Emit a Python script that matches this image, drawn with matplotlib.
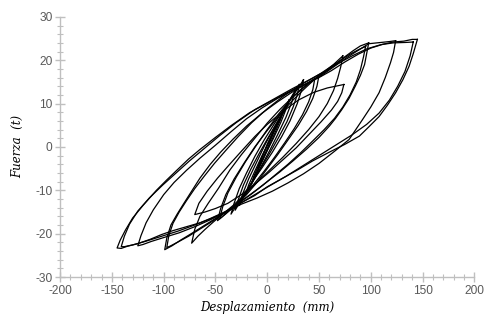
import matplotlib.pyplot as plt
from matplotlib.ticker import MultipleLocator

plt.rcParams["axes.unicode_minus"] = False

# hysteresis cycles: (displacement mm, force t)
# each cycle: lower branch from +tip to -tip, then upper branch back to +tip

c145_x = [145, 141, 137, 131, 124, 116, 108, 98, 89, 75, 60, 44, 30, 15, 0, -12, -23, -33, -43, -55, -65,
          -78, -91, -102, -113, -125, -135, -141, -145,
          -142, -137, -130, -120, -107, -97, -87, -76, -65, -50, -35, -17, 0, 20, 35, 50, 62, 75, 88, 100,
          112, 122, 132, 140, 145]
c145_y = [24.8, 21.5, 18.6, 15.5, 12.5, 9.6, 7.0, 4.6, 2.5, 0.6, -1.2, -3.2, -5.2, -7.2, -9.2, -11.2, -12.6,
          -14.0, -15.2, -16.5, -17.5, -18.4, -19.3, -20.2, -21.3, -22.3, -22.9, -23.4, -23.3,
          -21.5, -19.2, -16.4, -13.5, -10.0, -7.6, -5.3, -2.8, -0.6, 2.2, 4.9, 7.9, 10.1, 12.6, 14.3, 16.0,
          17.6, 19.6, 21.4, 22.8, 23.7, 24.2, 24.4, 24.8, 24.8]

c140_x = [141, 138, 133, 126, 118, 108, 96, 82, 66, 50, 34, 18, 2, -12, -26, -40, -55, -70, -86, -102,
          -118, -130, -138, -141,
          -138, -133, -125, -114, -101, -88, -75, -62, -46, -30, -12, 6, 24, 40, 54, 68, 82, 96, 110, 122,
          134, 141]
c140_y = [24.2, 21.0, 17.4, 14.0, 10.8, 7.8, 5.2, 2.8, 0.4, -2.0, -4.4, -6.8, -9.0, -11.0, -13.0, -15.0,
          -16.6, -18.0, -19.4, -20.6, -21.8, -22.6, -23.0, -23.0,
          -20.6, -17.8, -14.8, -11.8, -8.8, -6.0, -3.2, -0.6, 2.6, 5.6, 8.6, 11.0, 13.4, 15.4, 17.2, 19.2,
          21.0, 22.6, 23.6, 24.0, 24.1, 24.2]

c125_x = [124, 122, 119, 114, 108, 100, 92, 79, 65, 50, 35, 20, 5, -10, -25, -40, -55, -70, -85, -100,
          -112, -120, -125,
          -122, -117, -110, -100, -90, -78, -65, -50, -35, -20, -5, 10, 25, 40, 52, 65, 78, 90, 98, 110,
          118, 124]
c125_y = [24.5, 21.8, 19.4, 16.0, 12.5, 9.2, 6.3, 1.7, -1.0, -3.8, -6.2, -8.3, -10.2, -11.8, -13.2, -15.0,
          -16.8, -18.4, -19.8, -20.9, -21.8, -22.5, -22.8,
          -20.5, -17.5, -14.5, -11.0, -8.2, -5.4, -2.6, 0.4, 3.5, 6.5, 9.0, 11.2, 13.1, 14.8, 16.4, 18.6,
          20.8, 22.6, 23.8, 24.1, 24.3, 24.5]

c100_x = [98, 96, 94, 90, 85, 79, 72, 66, 60, 50, 38, 25, 12, 0, -12, -24, -35, -48, -60, -72, -83, -92,
          -99,
          -97, -93, -87, -81, -73, -65, -55, -45, -33, -20, -5, 10, 25, 38, 48, 58, 68, 75, 83, 90, 98]
c100_y = [24.0, 21.5, 19.0, 16.5, 14.0, 11.2, 8.6, 6.6, 4.8, 2.2, -0.5, -3.2, -5.8, -8.0, -10.2, -12.3,
          -14.2, -16.2, -18.0, -19.8, -21.4, -22.8, -23.7,
          -21.0, -18.0, -15.5, -13.2, -10.2, -7.2, -4.0, -1.2, 1.8, 4.8, 7.8, 10.4, 12.8, 14.6, 16.0, 17.6,
          19.4, 20.8, 22.2, 23.3, 24.0]

c95_x = [95, 93, 90, 86, 80, 73, 65, 55, 44, 32, 20, 8, -4, -16, -28, -40, -52, -64, -76, -86, -94, -97,
         -95, -91, -85, -78, -70, -61, -51, -40, -28, -15, 0, 15, 30, 42, 52, 62, 72, 80, 88, 95]
c95_y = [23.2, 20.8, 17.8, 15.0, 12.0, 9.2, 6.6, 4.0, 1.4, -1.4, -4.0, -6.4, -8.8, -11.0, -13.0, -15.0,
         -17.0, -18.8, -20.6, -21.9, -22.9, -23.2,
         -20.4, -17.6, -15.0, -12.4, -9.6, -6.8, -3.8, -0.8, 2.4, 5.6, 8.8, 11.6, 14.0, 15.6, 17.0, 18.6,
         20.2, 21.4, 22.4, 23.2]

c75_x = [73, 71, 68, 64, 58, 50, 40, 28, 15, 2, -10, -22, -33, -43, -52, -60, -67, -73,
         -70, -65, -57, -47, -36, -25, -12, 0, 12, 25, 36, 45, 55, 64, 73]
c75_y = [21.0, 18.5, 15.8, 13.0, 10.0, 7.0, 4.0, 0.8, -2.4, -5.4, -8.2, -11.0, -13.5, -15.5, -17.3, -19.0,
         -20.6, -22.2,
         -19.0, -16.0, -13.0, -9.5, -5.3, -1.8, 2.0, 5.5, 8.6, 11.6, 13.8, 15.5, 17.3, 19.0, 21.0]

c75b_x = [74, 72, 68, 62, 52, 40, 28, 15, 2, -12, -25, -38, -50, -60, -70,
          -66, -58, -48, -37, -25, -12, 0, 15, 30, 45, 58, 66, 74]
c75b_y = [14.4, 12.5, 10.5, 8.5, 5.8, 2.8, -0.2, -3.0, -5.8, -8.6, -11.0, -13.0, -14.2, -15.0, -15.6,
          -13.0, -10.2, -7.2, -4.2, -1.0, 2.4, 5.2, 8.2, 10.8, 12.6, 13.6, 14.0, 14.4]

c50_x = [50, 48, 44, 38, 30, 20, 10, 0, -10, -20, -30, -40, -48,
         -45, -40, -32, -22, -12, 0, 12, 24, 35, 44, 50]
c50_y = [16.5, 14.0, 11.2, 8.2, 5.0, 1.6, -1.8, -5.0, -8.2, -11.0, -13.4, -15.4, -17.0,
         -14.2, -11.0, -7.4, -3.6, 0.0, 3.8, 7.4, 10.6, 13.2, 15.2, 16.5]

c45_x = [46, 44, 40, 34, 26, 17, 7, -3, -13, -23, -32, -40, -46,
         -43, -38, -30, -21, -11, 0, 11, 22, 32, 40, 46]
c45_y = [15.8, 13.2, 10.4, 7.4, 4.2, 1.0, -2.4, -5.6, -8.6, -11.4, -13.6, -15.4, -16.6,
         -13.8, -10.6, -7.0, -3.4, 0.2, 4.0, 7.6, 10.8, 13.2, 14.8, 15.8]

c35_x = [35, 33, 29, 22, 14, 5, -5, -15, -24, -30, -35,
         -32, -27, -20, -12, -3, 7, 16, 24, 30, 35]
c35_y = [15.5, 13.0, 10.0, 6.0, 2.4, -1.2, -4.8, -8.2, -11.4, -13.6, -15.5,
         -13.0, -9.6, -6.0, -2.2, 1.6, 5.4, 8.8, 11.6, 13.6, 15.5]

c30_x = [31, 29, 25, 19, 11, 3, -6, -14, -22, -27, -31,
         -28, -23, -16, -8, 1, 10, 18, 24, 28, 31]
c30_y = [14.4, 12.0, 9.2, 5.8, 2.2, -1.2, -4.8, -8.0, -11.0, -13.0, -14.6,
         -12.2, -8.8, -5.2, -1.6, 2.2, 5.8, 9.0, 11.6, 13.2, 14.4]

c25_x = [27, 24, 18, 10, 2, -7, -15, -22, -27,
         -24, -18, -10, -2, 7, 15, 22, 27]
c25_y = [13.0, 10.5, 6.8, 2.8, -1.0, -5.0, -8.4, -11.2, -13.5,
         -11.0, -7.4, -3.4, 0.6, 4.6, 8.0, 11.0, 13.0]

c20_x = [21, 18, 13, 6, -2, -9, -15, -21,
         -18, -12, -5, 3, 10, 16, 21]
c20_y = [10.8, 8.6, 5.6, 2.0, -1.8, -5.2, -8.2, -11.0,
         -8.8, -5.6, -2.0, 1.8, 5.2, 8.2, 10.8]

c15_x = [16, 13, 7, 0, -7, -12, -16,
         -13, -7, 0, 7, 12, 16]
c15_y = [8.5, 6.4, 3.0, -0.8, -4.4, -7.0, -9.0,
         -6.8, -3.4, 0.4, 4.0, 6.6, 8.5]

c8_x = [8, 5, 0, -5, -9, -5, 0, 5, 8]
c8_y = [4.5, 2.6, -0.4, -3.2, -5.0, -2.4, 0.6, 3.2, 4.5]

cycles = [
    (c8_x, c8_y), (c15_x, c15_y), (c20_x, c20_y), (c25_x, c25_y), (c30_x, c30_y),
    (c35_x, c35_y), (c45_x, c45_y), (c50_x, c50_y), (c75_x, c75_y), (c75b_x, c75b_y),
    (c100_x, c100_y), (c95_x, c95_y), (c125_x, c125_y), (c145_x, c145_y), (c140_x, c140_y),
]

x_ticks = [-200, -150, -100, -50, 0, 50, 100, 150, 200]
y_ticks = [-30, -20, -10, 0, 10, 20, 30]

axis_grey = "#BFBFBF"
text_grey = "#595959"

fig = plt.figure(figsize=(4.85, 3.24), dpi=100)
ax = fig.add_axes([0.124, 0.145, 0.854, 0.803])

for cx, cy in cycles:
    ax.plot(cx, cy, color="black", lw=0.9, solid_joinstyle="round")

ax.set_xlim(-200, 200)
ax.set_ylim(-30, 30)
ax.set_xticks(x_ticks)
ax.set_yticks(y_ticks)
ax.xaxis.set_minor_locator(MultipleLocator(10))
ax.yaxis.set_minor_locator(MultipleLocator(2))

for side in ["top", "right"]:
    ax.spines[side].set_visible(False)
for side in ["left", "bottom"]:
    ax.spines[side].set_color(axis_grey)
    ax.spines[side].set_linewidth(1.0)

ax.tick_params(which="major", direction="inout", length=7, width=1.0, color=axis_grey,
               labelsize=8.6, labelcolor=text_grey, pad=2)
ax.tick_params(which="minor", direction="inout", length=5, width=0.8, color=axis_grey)
for lab in ax.get_xticklabels() + ax.get_yticklabels():
    lab.set_family("Liberation Sans")

ax.set_xlabel("Desplazamiento  (mm)", family="DejaVu Serif", style="italic", fontsize=8.5,
              color="black", labelpad=3)
ax.set_ylabel("Fuerza  (t)", family="DejaVu Serif", style="italic", fontsize=8.5,
              color="black", labelpad=8)

fig.savefig("out.png", dpi=100)
